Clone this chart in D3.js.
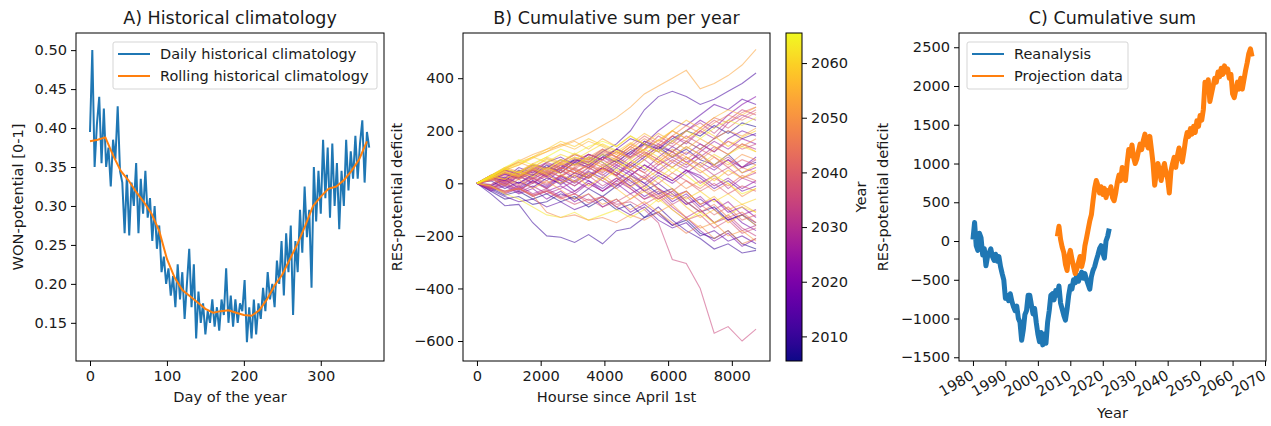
<!DOCTYPE html>
<html>
<head>
<meta charset="utf-8">
<script src="https://cdn.jsdelivr.net/npm/d3@7"></script>
<style>
  body { margin: 0; background: #fff; }
  text { font-family: "DejaVu Sans", sans-serif; fill: #1a1a1a; }
</style>
</head>
<body>
<div id="chart"></div>
<script>
// A) daily climatology, one value every 3 days
var dailyStep = 3;
var dailyClim = [0.395,0.500,0.350,0.405,0.440,0.355,0.425,0.350,0.375,0.325,0.385,0.360,0.428,0.345,0.330,0.265,
  0.340,0.262,0.330,0.300,0.355,0.265,0.335,0.290,0.345,0.285,0.310,0.255,0.300,0.245,0.275,0.215,0.235,0.200,
  0.220,0.185,0.210,0.170,0.225,0.180,0.215,0.155,0.200,0.245,0.170,0.225,0.130,0.190,0.150,0.175,0.135,0.165,
  0.150,0.180,0.145,0.170,0.140,0.180,0.160,0.220,0.150,0.185,0.145,0.180,0.150,0.175,0.165,0.205,0.125,0.170,
  0.130,0.180,0.135,0.175,0.155,0.195,0.165,0.215,0.180,0.200,0.170,0.230,0.200,0.255,0.185,0.265,0.215,0.275,
  0.160,0.255,0.215,0.295,0.240,0.325,0.260,0.295,0.195,0.350,0.280,0.345,0.290,0.385,0.310,0.375,0.285,0.380,
  0.300,0.355,0.270,0.345,0.300,0.385,0.320,0.370,0.335,0.390,0.335,0.380,0.410,0.330,0.395,0.375];

// A) rolling climatology, one value every 10 days
var rollingStep = 10;
var rollingClim = [0.383,0.385,0.388,0.365,0.345,0.333,0.318,0.305,0.290,0.268,0.232,0.208,0.192,0.184,0.176,
  0.168,0.163,0.165,0.166,0.163,0.160,0.159,0.166,0.180,0.198,0.212,0.232,0.252,0.275,0.300,0.312,0.322,0.325,
  0.333,0.345,0.360,0.383];

// B) cumulative sum per projection year, sampled every 438 hours
var projYears = d3.range(2006, 2066);
var hoursSince = d3.range(0, 8761, 438);
var cumsumPerYear = [
  [0,-20,-45,-30,-60,-40,-70,-50,-90,-60,-100,-80,-130,-110,-160,-140,-190,-210,-180,-230,-250],
  [0,15,40,20,55,30,60,90,70,110,80,120,150,130,170,200,180,220,190,230,215],
  [0,-30,-60,-50,-80,-70,-40,-60,-20,-50,-10,30,0,-40,-20,-70,-110,-90,-140,-120,-160],
  [0,20,10,50,30,70,40,80,60,100,130,110,160,140,100,130,90,70,110,60,80],
  [0,-40,-85,-80,-150,-200,-205,-225,-195,-230,-180,-170,-130,-90,-140,-180,-210,-250,-230,-265,-255],
  [0,10,-20,5,-15,20,0,40,20,60,90,60,100,140,120,160,130,170,200,170,190],
  [0,-10,20,0,30,60,50,90,80,120,150,200,280,330,350,330,300,320,350,380,420],
  [0,25,50,40,70,60,90,70,100,80,40,10,-30,0,-40,-80,-60,-100,-140,-120,-150],
  [0,-25,-50,-70,-60,-90,-70,-100,-80,-50,-90,-120,-90,-140,-170,-150,-200,-180,-220,-200,-230],
  [0,30,20,60,40,80,100,70,110,90,130,170,150,200,240,220,260,300,280,320,300],
  [0,-10,15,-20,10,-15,25,5,45,20,60,30,70,40,10,50,20,-20,10,-30,-10],
  [0,20,-10,30,0,40,10,-30,10,-20,20,-10,-50,-20,-70,-40,-90,-60,-100,-150,-180],
  [0,-20,0,-30,10,-20,20,-10,30,60,30,80,50,100,140,110,150,120,170,200,180],
  [0,15,35,20,50,25,-5,30,10,-30,0,-40,-10,30,0,40,80,50,90,60,100],
  [0,-30,-10,-40,-20,-60,-30,-70,-40,-90,-60,-110,-80,-120,-160,-130,-180,-220,-190,-240,-210],
  [0,25,10,45,20,60,40,80,110,90,130,100,150,120,160,200,240,210,260,300,330],
  [0,-5,25,0,35,10,50,20,60,30,70,40,0,40,10,50,30,-10,20,-20,10],
  [0,20,50,30,60,40,70,50,20,60,30,-10,20,-20,-50,-30,-80,-60,-110,-90,-130],
  [0,-15,-40,-20,-50,-30,-10,-40,0,-30,10,50,20,70,100,70,120,160,130,170,150],
  [0,30,15,40,70,50,80,110,90,130,100,70,110,150,120,80,110,60,90,40,60],
  [0,-20,10,-15,20,-10,30,0,40,10,-20,20,-30,-60,-30,-80,-50,-100,-70,-120,-100],
  [0,10,35,15,45,25,55,85,60,100,70,110,160,130,180,150,200,170,230,260,240],
  [0,-25,-5,-35,-10,-40,-20,10,-20,20,-10,30,70,40,80,50,0,30,-20,20,0],
  [0,20,0,30,50,30,60,40,70,100,80,120,90,50,90,60,100,140,110,150,130],
  [0,-10,-30,-10,-40,-20,-50,-30,0,-30,10,-20,-60,-40,-90,-130,-100,-150,-130,-180,-160],
  [0,15,40,25,55,80,60,95,70,40,80,50,90,130,100,140,110,70,100,60,90],
  [0,-20,5,-25,0,30,10,40,20,60,40,80,120,90,60,100,70,30,60,20,40],
  [0,25,5,35,15,45,25,55,30,-10,20,-20,-60,-30,-80,-50,-100,-150,-120,-170,-200],
  [0,-15,15,-10,20,-5,30,10,50,90,60,100,130,180,150,200,230,190,240,280,260],
  [0,-15,-30,-20,-45,-30,-55,-40,-65,-50,-80,-70,-100,-150,-290,-305,-400,-570,-545,-600,-555],
  [0,20,45,25,50,75,55,85,110,90,120,95,130,165,140,180,150,120,160,130,150],
  [0,-10,-35,-15,-45,-25,-55,-80,-60,-90,-70,-40,-80,-50,-100,-140,-120,-170,-140,-190,-170],
  [0,15,-5,25,5,35,60,40,75,50,90,130,100,140,180,160,200,240,210,250,280],
  [0,-20,0,-25,5,-20,15,-10,25,55,30,70,40,0,40,10,-30,0,-40,-10,-30],
  [0,25,50,35,65,45,75,55,85,60,30,70,40,80,120,90,130,100,60,90,70],
  [0,-5,20,-5,25,0,30,60,30,70,40,0,30,-20,-60,-30,-80,-120,-90,-140,-120],
  [0,20,5,35,15,50,25,60,90,120,100,140,180,150,200,170,210,250,230,270,290],
  [0,-15,-35,-20,-50,-30,-60,-40,-75,-50,-90,-60,-20,-60,-30,10,-20,20,-10,30,10],
  [0,30,55,40,70,50,80,65,95,70,100,140,110,70,110,80,40,70,30,60,40],
  [0,10,30,15,40,20,50,30,60,35,-5,30,-10,-50,-20,-70,-110,-80,-130,-110,-150],
  [0,20,40,25,55,35,70,100,80,115,90,130,170,140,180,220,190,230,260,240,270],
  [0,-10,-30,-20,-45,-110,-130,-120,-140,-130,-150,-120,-140,-110,-150,-190,-160,-210,-180,-230,-210],
  [0,25,15,45,30,60,40,75,55,90,120,100,145,120,80,120,90,130,160,140,170],
  [0,15,40,20,50,30,60,40,70,45,80,55,15,50,20,-20,10,-30,0,-50,-20],
  [0,30,60,45,75,55,90,70,100,130,110,150,120,90,130,100,60,100,70,110,90],
  [0,20,-10,15,-20,10,-25,-60,-40,-80,-60,-100,-70,-110,-80,-130,-170,-150,-200,-180,-220],
  [0,30,55,80,60,95,75,110,90,125,100,140,115,80,120,160,130,170,200,180,210],
  [0,30,55,85,110,130,145,165,190,220,250,290,340,370,400,430,360,380,410,450,510],
  [0,25,50,70,95,120,140,160,130,170,140,180,150,190,160,130,170,140,110,150,120],
  [0,20,45,30,60,40,75,50,20,55,25,-15,20,-25,-60,-30,-80,-50,-100,-80,-110],
  [0,30,60,80,100,120,150,130,160,140,110,150,190,160,200,240,210,250,280,260,290],
  [0,15,40,25,55,35,0,30,-10,25,-20,-60,-30,-70,-40,-90,-130,-100,-150,-120,-160],
  [0,25,55,40,75,100,80,115,90,60,95,70,110,80,40,80,50,10,50,20,50],
  [0,20,50,70,100,130,160,140,170,145,120,155,125,165,200,170,210,180,140,175,200],
  [0,30,15,45,25,60,35,5,40,10,50,20,-20,20,-20,-60,-30,-70,-40,-80,-60],
  [0,25,55,75,100,80,110,90,120,150,125,90,130,100,60,100,70,110,80,40,70],
  [0,20,45,30,60,90,70,100,75,110,85,50,90,130,100,140,110,70,110,140,120],
  [0,-10,-40,-60,-90,-120,-130,-110,-140,-120,-100,-130,-100,-60,-100,-140,-110,-150,-120,-90,-110],
  [0,25,55,40,70,50,90,70,100,80,50,90,60,20,60,30,-10,30,0,-40,-20],
  [0,30,60,90,70,100,130,110,140,160,140,180,150,120,160,200,170,210,240,220,250]
];

// C) cumulative sum, one value every half year
var stepYears = 0.5;
var reanalysisStart = 1980;
var reanalysisCum = [20,240,-60,-120,100,40,-180,-100,-320,-200,-150,-100,-200,-250,-170,-260,-200,-330,-420,-500,
  -740,-700,-770,-680,-780,-850,-900,-840,-1000,-1050,-1280,-1150,-950,-900,-700,-700,-820,-940,-870,-1050,
  -1200,-1300,-1180,-1340,-1200,-1320,-1050,-900,-700,-680,-760,-640,-700,-580,-800,-880,-960,-1020,-880,-700,
  -580,-620,-500,-540,-440,-520,-460,-400,-480,-420,-500,-560,-620,-460,-380,-330,-250,-180,-100,-60,
  -150,-220,0,60,160];
var projectionStart = 2006;
var projectionCum = [60,190,20,-80,-150,-300,-380,-200,-120,-230,-330,-420,-360,-280,-200,-330,-240,-60,40,150,
  260,340,520,680,780,720,620,700,600,680,560,650,620,700,560,520,620,760,850,780,
  950,880,780,1000,1180,1100,1240,1080,1000,1060,1160,1250,1180,1300,1380,1260,1200,1350,1180,1000,
  720,880,1000,900,780,920,1000,880,800,620,900,1000,1080,950,1100,1200,1120,1020,1150,1300,
  1400,1350,1450,1380,1480,1400,1550,1480,1620,1560,1700,2050,1950,2080,1800,1900,2000,2100,2050,2180,
  2120,2230,2150,2260,2180,2220,2100,2150,1900,1850,1950,2050,1960,2100,1960,2080,2200,2300,2420,2480,2380];

// tick values
var ticksAx = [0, 100, 200, 300];
var ticksAy = [0.15, 0.20, 0.25, 0.30, 0.35, 0.40, 0.45, 0.50];
var ticksBx = [0, 2000, 4000, 6000, 8000];
var ticksBy = [-600, -400, -200, 0, 200, 400];
var ticksBar = [2010, 2020, 2030, 2040, 2050, 2060];
var ticksCx = d3.range(1980, 2071, 10);
var ticksCy = [-1500, -1000, -500, 0, 500, 1000, 1500, 2000, 2500];

var blue = "#1f77b4", orange = "#ff7f0e";
var plotTop = 33, plotBottom = 361;
var fs = "14.6px";

var svg = d3.select("#chart").append("svg")
  .attr("width", 1271)
  .attr("height", 426);

function makePanel(id, left, right, xDom, yDom) {
  var p = {};
  p.left = left; p.right = right;
  p.x = d3.scaleLinear().domain(xDom).range([left, right]);
  p.y = d3.scaleLinear().domain(yDom).range([plotBottom, plotTop]);
  svg.append("clipPath").attr("id", id)
    .append("rect")
      .attr("x", left).attr("y", plotTop)
      .attr("width", right - left).attr("height", plotBottom - plotTop);
  p.g = svg.append("g").attr("clip-path", "url(#" + id + ")");
  return p;
}

function drawAxes(p, xt, yt, xf, yf) {
  var xa = svg.append("g")
    .attr("transform", "translate(0," + plotBottom + ")")
    .call(d3.axisBottom(p.x).tickValues(xt).tickSize(5).tickPadding(5).tickFormat(xf));
  var ya = svg.append("g")
    .attr("transform", "translate(" + p.left + ",0)")
    .call(d3.axisLeft(p.y).tickValues(yt).tickSize(5).tickPadding(4).tickFormat(yf));
  [xa, ya].forEach(function(a) {
    a.select(".domain").remove();
    a.selectAll("line").attr("stroke", "#000");
    a.selectAll("text").style("font-size", fs).attr("fill", "#1a1a1a");
  });
  svg.append("rect")
    .attr("x", p.left).attr("y", plotTop)
    .attr("width", p.right - p.left).attr("height", plotBottom - plotTop)
    .attr("fill", "none").attr("stroke", "#000").attr("stroke-width", 1);
  return xa;
}

function title(p, txt) {
  svg.append("text")
    .attr("x", (p.left + p.right) / 2).attr("y", 24)
    .attr("text-anchor", "middle")
    .style("font-size", "17.5px")
    .text(txt);
}

function xLabel(p, txt, yPos) {
  svg.append("text")
    .attr("x", (p.left + p.right) / 2).attr("y", yPos)
    .attr("text-anchor", "middle")
    .style("font-size", fs)
    .text(txt);
}

function yLabel(xPos, txt) {
  svg.append("text")
    .attr("transform", "translate(" + xPos + "," + (plotTop + plotBottom) / 2 + ") rotate(-90)")
    .attr("text-anchor", "middle")
    .style("font-size", fs)
    .text(txt);
}

function legend(x0, y0, w, entries) {
  var lg = svg.append("g");
  lg.append("rect")
    .attr("x", x0).attr("y", y0).attr("width", w).attr("height", 47)
    .attr("rx", 2).attr("fill", "#fff").attr("fill-opacity", 0.8)
    .attr("stroke", "#d5d5d5");
  entries.forEach(function(e, i) {
    var yy = y0 + 12 + i * 22;
    lg.append("line")
      .attr("x1", x0 + 5).attr("x2", x0 + 37).attr("y1", yy).attr("y2", yy)
      .attr("stroke", e[1]).attr("stroke-width", 2);
    lg.append("text")
      .attr("x", x0 + 47).attr("y", yy + 5)
      .style("font-size", "14.5px")
      .text(e[0]);
  });
}

// ---------- A) Historical climatology
var pA = makePanel("clipA", 76, 384, [-18.2, 382.2], [0.101, 0.522]);

pA.g.append("path")
  .datum(dailyClim)
  .attr("fill", "none").attr("stroke", blue).attr("stroke-width", 2)
  .attr("d", d3.line()
    .x(function(d, i) { return pA.x(i * dailyStep); })
    .y(function(d) { return pA.y(d); }));

pA.g.append("path")
  .datum(rollingClim)
  .attr("fill", "none").attr("stroke", orange).attr("stroke-width", 2)
  .attr("d", d3.line()
    .x(function(d, i) { return pA.x(i * rollingStep); })
    .y(function(d) { return pA.y(d); }));

drawAxes(pA, ticksAx, ticksAy, d3.format("d"), d3.format(".2f"));
title(pA, "A) Historical climatology");
xLabel(pA, "Day of the year", 402);
yLabel(23, "WON-potential [0-1]");
legend(113, 42, 264, [["Daily historical climatology", blue], ["Rolling historical climatology", orange]]);

// ---------- B) Cumulative sum per year
var pB = makePanel("clipB", 463, 770, [-438, 9198], [-676, 572]);
var color = d3.scaleSequential(d3.interpolatePlasma).domain([2005.5, 2065.5]);

pB.g.selectAll(".yr")
  .data(cumsumPerYear)
  .enter().append("path")
    .attr("class", "yr")
    .attr("fill", "none")
    .attr("stroke", function(d, i) { return color(projYears[i]); })
    .attr("stroke-width", 1.1)
    .attr("stroke-opacity", 0.55)
    .attr("d", d3.line()
      .x(function(d, i) { return pB.x(hoursSince[i]); })
      .y(function(d) { return pB.y(d); }));

drawAxes(pB, ticksBx, ticksBy, d3.format("d"), d3.format("d"));
title(pB, "B) Cumulative sum per year");
xLabel(pB, "Hourse since April 1st", 402);
yLabel(402, "RES-potential deficit");

// colorbar
var barL = 786, barR = 802;
var barScale = d3.scaleLinear().domain([2005.5, 2065.5]).range([plotBottom, plotTop]);
var grad = svg.append("defs").append("linearGradient")
  .attr("id", "plasmaGrad").attr("x1", 0).attr("y1", 1).attr("x2", 0).attr("y2", 0);
d3.range(0, 1.001, 0.05).forEach(function(t) {
  grad.append("stop").attr("offset", t).attr("stop-color", d3.interpolatePlasma(t));
});
svg.append("rect")
  .attr("x", barL).attr("y", plotTop)
  .attr("width", barR - barL).attr("height", plotBottom - plotTop)
  .attr("fill", "url(#plasmaGrad)").attr("stroke", "#000").attr("stroke-width", 1);
var barAxis = svg.append("g")
  .attr("transform", "translate(" + barR + ",0)")
  .call(d3.axisRight(barScale).tickValues(ticksBar).tickSize(5).tickPadding(4).tickFormat(d3.format("d")));
barAxis.select(".domain").remove();
barAxis.selectAll("line").attr("stroke", "#000");
barAxis.selectAll("text").style("font-size", fs).attr("fill", "#1a1a1a");
yLabel(866, "Year");

// ---------- C) Cumulative sum
var pC = makePanel("clipC", 959, 1266, [1975.7, 2070.3], [-1548, 2684]);

pC.g.append("path")
  .datum(reanalysisCum)
  .attr("fill", "none").attr("stroke", blue).attr("stroke-width", 5)
  .attr("stroke-linejoin", "round")
  .attr("d", d3.line()
    .x(function(d, i) { return pC.x(reanalysisStart + i * stepYears); })
    .y(function(d) { return pC.y(d); }));

pC.g.append("path")
  .datum(projectionCum)
  .attr("fill", "none").attr("stroke", orange).attr("stroke-width", 5)
  .attr("stroke-linejoin", "round")
  .attr("d", d3.line()
    .x(function(d, i) { return pC.x(projectionStart + i * stepYears); })
    .y(function(d) { return pC.y(d); }));

var xaC = drawAxes(pC, ticksCx, ticksCy, d3.format("d"), d3.format("d"));
xaC.selectAll("text")
  .attr("text-anchor", "end")
  .attr("y", 0).attr("dy", "0.35em")
  .attr("transform", "translate(-1,13) rotate(-30)");
title(pC, "C) Cumulative sum");
xLabel(pC, "Year", 418);
yLabel(888, "RES-potential deficit");
legend(967, 42, 161, [["Reanalysis", blue], ["Projection data", orange]]);
</script>
</body>
</html>
